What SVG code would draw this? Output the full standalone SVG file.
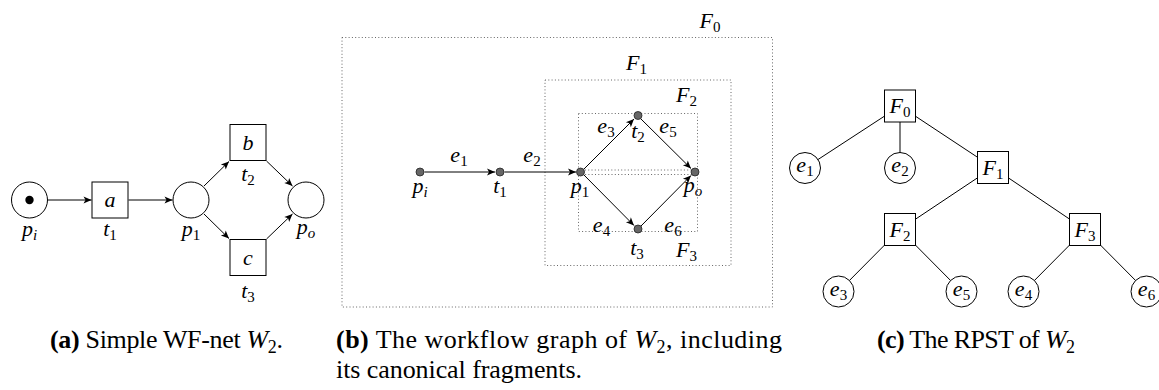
<svg xmlns="http://www.w3.org/2000/svg" width="1159" height="390" viewBox="0 0 1159 390">
<style>
.m{font-family:"Liberation Serif",serif;font-style:italic;font-size:22px;fill:#000}
.sn{font-style:normal;font-size:15px}
.si{font-style:italic;font-size:15px}
.cap{font-family:"Liberation Serif",serif;font-size:26px;fill:#000}
.pl{fill:#fff;stroke:#000;stroke-width:1}
.tr{fill:#fff;stroke:#000;stroke-width:1}
.dot{fill:#666;stroke:#222;stroke-width:0.8}
.frag{fill:none;stroke:#666;stroke-width:1;stroke-dasharray:1 2.3}
.e{stroke:#000;stroke-width:1;fill:none}
.ea{stroke:#000;stroke-width:1;fill:none;marker-end:url(#arr)}
</style>
<defs>
<marker id="arr" viewBox="-10 -5 12 10" refX="0" refY="0" markerWidth="12" markerHeight="10" markerUnits="userSpaceOnUse" orient="auto">
<path d="M0,0 L-8,-3.5 L-6,0 L-8,3.5 Z" fill="#000"/>
</marker>
</defs>

<!-- (a) Simple WF-net -->
<g id="a-connectors">
<line class="ea" x1="47.5" y1="200" x2="91.5" y2="200"/>
<line class="ea" x1="128.5" y1="200" x2="172.5" y2="200"/>
<line class="ea" x1="204" y1="186" x2="229" y2="161.5"/>
<line class="ea" x1="204" y1="214" x2="229" y2="238.5"/>
<line class="ea" x1="266.5" y1="161" x2="292.5" y2="186"/>
<line class="ea" x1="266.5" y1="239" x2="292.5" y2="214"/>
</g>
<g id="a-pi"><circle class="pl" cx="29.5" cy="200" r="18"/><circle cx="29.5" cy="200" r="4.2" fill="#000"/>
<text class="m" x="29.5" y="236" text-anchor="middle">p<tspan class="si" dy="4">i</tspan></text></g>
<g id="a-t1"><rect class="tr" x="92" y="182" width="36" height="36"/>
<text class="m" x="110" y="207" text-anchor="middle">a</text>
<text class="m" x="110" y="236" text-anchor="middle">t<tspan class="sn" dy="4">1</tspan></text></g>
<g id="a-p1"><circle class="pl" cx="191" cy="200" r="18"/>
<text class="m" x="191" y="236" text-anchor="middle">p<tspan class="sn" dy="4">1</tspan></text></g>
<g id="a-t2"><rect class="tr" x="230" y="124.5" width="36" height="36"/>
<text class="m" x="248" y="149.5" text-anchor="middle">b</text>
<text class="m" x="248" y="181" text-anchor="middle">t<tspan class="sn" dy="4">2</tspan></text></g>
<g id="a-t3"><rect class="tr" x="230" y="239.5" width="36" height="36"/>
<text class="m" x="248" y="264.5" text-anchor="middle">c</text>
<text class="m" x="248" y="298" text-anchor="middle">t<tspan class="sn" dy="4">3</tspan></text></g>
<g id="a-po"><circle class="pl" cx="306" cy="200" r="18"/>
<text class="m" x="306" y="234" text-anchor="middle">p<tspan class="si" dy="4">o</tspan></text></g>

<!-- (b) workflow graph -->
<g id="b-fragments">
<rect class="frag" x="342" y="37.5" width="430.5" height="269.5"/>
<rect class="frag" x="545" y="80" width="186" height="185.5"/>
<rect class="frag" x="578.5" y="113.5" width="119" height="56.5"/>
<rect class="frag" x="578.5" y="174.5" width="119" height="57"/>
<text class="m" x="710" y="28" text-anchor="middle">F<tspan class="sn" dy="4">0</tspan></text>
<text class="m" x="636.5" y="70" text-anchor="middle">F<tspan class="sn" dy="4">1</tspan></text>
<text class="m" x="686.5" y="102" text-anchor="middle">F<tspan class="sn" dy="4">2</tspan></text>
<text class="m" x="686.5" y="257" text-anchor="middle">F<tspan class="sn" dy="4">3</tspan></text>
</g>
<g id="b-connectors">
<line class="ea" x1="424.5" y1="172" x2="495" y2="172"/>
<line class="ea" x1="504.5" y1="172" x2="576" y2="172"/>
<line class="ea" x1="584" y1="169" x2="634" y2="119"/>
<line class="ea" x1="641" y1="119" x2="691" y2="168.5"/>
<line class="ea" x1="584" y1="175" x2="634" y2="225.5"/>
<line class="ea" x1="641" y1="226" x2="691" y2="175.5"/>
<text class="m" x="459" y="162" text-anchor="middle">e<tspan class="sn" dy="4">1</tspan></text>
<text class="m" x="532" y="162" text-anchor="middle">e<tspan class="sn" dy="4">2</tspan></text>
<text class="m" x="606" y="133" text-anchor="middle">e<tspan class="sn" dy="4">3</tspan></text>
<text class="m" x="668" y="133" text-anchor="middle">e<tspan class="sn" dy="4">5</tspan></text>
<text class="m" x="601.5" y="232" text-anchor="middle">e<tspan class="sn" dy="4">4</tspan></text>
<text class="m" x="673" y="232" text-anchor="middle">e<tspan class="sn" dy="4">6</tspan></text>
</g>
<g id="b-pi"><circle class="dot" cx="420" cy="172" r="4"/><text class="m" x="420" y="193" text-anchor="middle">p<tspan class="si" dy="4">i</tspan></text></g>
<g id="b-t1"><circle class="dot" cx="500" cy="172" r="4"/><text class="m" x="500" y="193" text-anchor="middle">t<tspan class="sn" dy="4">1</tspan></text></g>
<g id="b-p1"><circle class="dot" cx="580.5" cy="172" r="4"/><text class="m" x="580" y="193" text-anchor="middle">p<tspan class="sn" dy="4">1</tspan></text></g>
<g id="b-t2"><circle class="dot" cx="638" cy="115.5" r="4"/><text class="m" x="638" y="138" text-anchor="middle">t<tspan class="sn" dy="4">2</tspan></text></g>
<g id="b-t3"><circle class="dot" cx="638" cy="229" r="4"/><text class="m" x="637" y="255" text-anchor="middle">t<tspan class="sn" dy="4">3</tspan></text></g>
<g id="b-po"><circle class="dot" cx="695" cy="172" r="4"/><text class="m" x="693" y="192" text-anchor="middle">p<tspan class="si" dy="4">o</tspan></text></g>

<!-- (c) RPST -->
<g id="c-connectors">
<line class="e" x1="900" y1="106" x2="805" y2="168"/>
<line class="e" x1="900" y1="106" x2="900" y2="168"/>
<line class="e" x1="900" y1="106" x2="993" y2="167.5"/>
<line class="e" x1="993" y1="167.5" x2="900" y2="229.5"/>
<line class="e" x1="993" y1="167.5" x2="1085" y2="229.5"/>
<line class="e" x1="900" y1="229.5" x2="838.5" y2="291.5"/>
<line class="e" x1="900" y1="229.5" x2="961.5" y2="291.5"/>
<line class="e" x1="1085" y1="229.5" x2="1023.5" y2="291.5"/>
<line class="e" x1="1085" y1="229.5" x2="1146.5" y2="291.5"/>
</g>
<g id="c-F0"><rect class="tr" x="884.5" y="90" width="31" height="32"/><text class="m" x="900" y="113" text-anchor="middle">F<tspan class="sn" dy="4">0</tspan></text></g>
<g id="c-F1"><rect class="tr" x="977.5" y="151.5" width="31" height="32"/><text class="m" x="993" y="174.5" text-anchor="middle">F<tspan class="sn" dy="4">1</tspan></text></g>
<g id="c-F2"><rect class="tr" x="884.5" y="213.5" width="31" height="32"/><text class="m" x="900" y="236.5" text-anchor="middle">F<tspan class="sn" dy="4">2</tspan></text></g>
<g id="c-F3"><rect class="tr" x="1069.5" y="213.5" width="31" height="32"/><text class="m" x="1085" y="236.5" text-anchor="middle">F<tspan class="sn" dy="4">3</tspan></text></g>
<g id="c-e1"><circle class="pl" cx="805" cy="168" r="15.5"/><text class="m" x="805" y="172" text-anchor="middle">e<tspan class="sn" dy="4">1</tspan></text></g>
<g id="c-e2"><circle class="pl" cx="900" cy="168" r="15.5"/><text class="m" x="900" y="172" text-anchor="middle">e<tspan class="sn" dy="4">2</tspan></text></g>
<g id="c-e3"><circle class="pl" cx="838.5" cy="291.5" r="15.5"/><text class="m" x="838.5" y="295.5" text-anchor="middle">e<tspan class="sn" dy="4">3</tspan></text></g>
<g id="c-e5"><circle class="pl" cx="961.5" cy="291.5" r="15.5"/><text class="m" x="961.5" y="295.5" text-anchor="middle">e<tspan class="sn" dy="4">5</tspan></text></g>
<g id="c-e4"><circle class="pl" cx="1023.5" cy="291.5" r="15.5"/><text class="m" x="1023.5" y="295.5" text-anchor="middle">e<tspan class="sn" dy="4">4</tspan></text></g>
<g id="c-e6"><circle class="pl" cx="1146.5" cy="291.5" r="15.5"/><text class="m" x="1146.5" y="295.5" text-anchor="middle">e<tspan class="sn" dy="4">6</tspan></text></g>

<!-- captions -->
<g id="captions">
<text class="cap" x="50" y="348" textLength="233" lengthAdjust="spacing"><tspan font-weight="bold">(a)</tspan> Simple WF-net <tspan font-style="italic">W</tspan><tspan font-size="18" dy="5">2</tspan><tspan dy="-5">.</tspan></text>
<text class="cap" x="336" y="348" textLength="446" lengthAdjust="spacing"><tspan font-weight="bold">(b)</tspan> The workflow graph of <tspan font-style="italic">W</tspan><tspan font-size="18" dy="5">2</tspan><tspan dy="-5">, including</tspan></text>
<text class="cap" x="336" y="378" textLength="246" lengthAdjust="spacing">its canonical fragments.</text>
<text class="cap" x="877" y="348" textLength="198" lengthAdjust="spacing"><tspan font-weight="bold">(c)</tspan> The RPST of <tspan font-style="italic">W</tspan><tspan font-size="18" dy="5">2</tspan></text>
</g>
</svg>
